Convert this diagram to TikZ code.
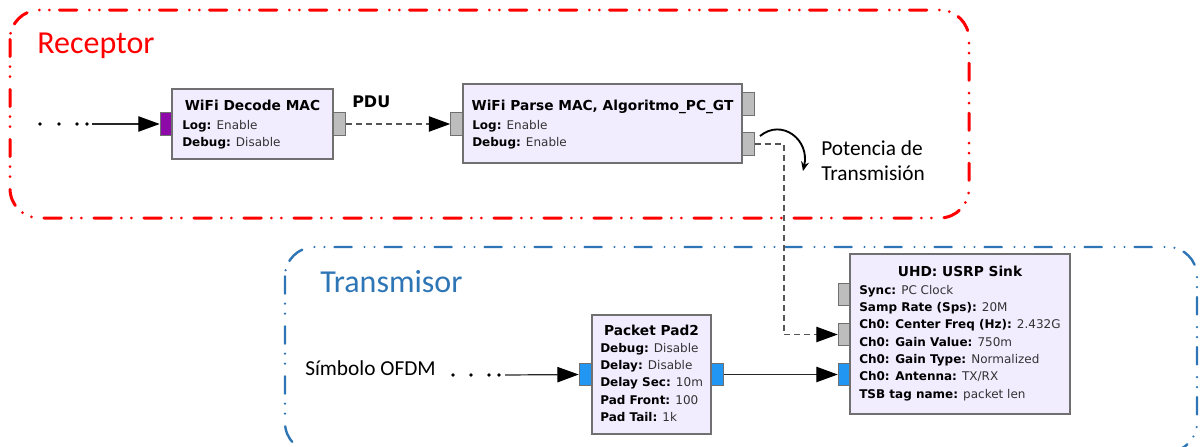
\documentclass[tikz,border=0pt]{standalone}
\usepackage{fontspec}
\setmainfont{Carlito}
\newfontfamily\grcfont{DejaVu Sans}
\usetikzlibrary{arrows.meta}
\definecolor{rxred}{HTML}{FF0000}
\definecolor{txblue}{HTML}{2E75B6}
\definecolor{blockfill}{HTML}{F1EDFF}
\definecolor{blockdraw}{HTML}{707070}
\definecolor{portgray}{HTML}{BDBDBD}
\definecolor{portpurple}{HTML}{8E0AA8}
\definecolor{portblue}{HTML}{2196F3}
\definecolor{valgray}{HTML}{333333}
\definecolor{dashgray}{HTML}{555555}
\newcommand\kv[2]{\textbf{#1:} \textcolor{valgray}{#2}}
\begin{document}
\begin{tikzpicture}[x=0.75pt,y=-0.75pt,
  region/.style={line width=#1, line cap=round, rounded corners=22pt,
    dash pattern=on 13pt off 7.5pt on 0pt off 7.5pt on 0pt off 9.5pt},
  blockbox/.style={draw=blockdraw, fill=blockfill, line width=0.8pt, inner sep=0, rectangle},
  port/.style={draw=blockdraw, line width=0.8pt, inner sep=0, minimum width=9.4pt, minimum height=17pt, rectangle},
  graytab/.style={port, fill=portgray},
  bluetab/.style={port, fill=portblue},
  purpletab/.style={port, fill=portpurple},
  btitle/.style={anchor=base, inner sep=0, font=\grcfont\bfseries\fontsize{10.3}{13}\selectfont},
  bparams/.style={anchor=base west, inner sep=0, font=\grcfont\fontsize{9}{13}\selectfont},
  conn/.style={line width=0.9pt, draw=black!85, -{Triangle[length=16pt,width=11.5pt,color=black]}},
  dconn/.style={conn, draw=dashgray, dash pattern=on 4.5pt off 3pt},
  regionlabel/.style={anchor=base west, inner sep=0, font=\fontsize{24}{28}\selectfont},
  note/.style={anchor=base west, inner sep=0, font=\fontsize{16}{20}\selectfont},
]
\path[use as bounding box, clip] (0,0) rectangle (1202,446);

% regions
\draw[region=2.25pt, draw=rxred] (10,10) rectangle (969,218);
\draw[region=1.8pt, draw=txblue] (285,247) rectangle (1197,452);
\node[regionlabel, text=rxred] (rxlabel) at (37,53) {Receptor};
\node[regionlabel, text=txblue] (txlabel) at (320,292) {Transmisor};

% ports
\node[purpletab] (decin) at (166.5,124) {};
\node[graytab] (decout) at (339,124) {};
\node[graytab] (parin) at (457,124) {};
\node[graytab] (parout1) at (748,104) {};
\node[graytab] (parout2) at (748,144) {};
\node[bluetab] (padin) at (585.5,374.5) {};
\node[bluetab] (padout) at (717.5,374.5) {};
\node[graytab] (usrpsync) at (844.5,294.5) {};
\node[graytab] (usrpin1) at (844.5,334.5) {};
\node[bluetab] (usrpin0) at (844.5,374.5) {};

% blocks
\node[blockbox, minimum width=120.75pt, minimum height=52.5pt] (dec) at (252.5,124) {};
\node[btitle] (dectitle) at (252.5,110) {WiFi Decode MAC};
\node[bparams] (decparams) at (182,129) {\begin{tabular}[t]{@{}l@{}}\kv{Log}{Enable}\\ \kv{Debug}{Disable}\end{tabular}};

\node[blockbox, minimum width=209.25pt, minimum height=59.25pt] (par) at (602.5,123.5) {};
\node[btitle] (partitle) at (602.5,110) {WiFi Parse MAC, Algoritmo\_PC\_GT};
\node[bparams] (parparams) at (472,129) {\begin{tabular}[t]{@{}l@{}}\kv{Log}{Enable}\\ \kv{Debug}{Enable}\end{tabular}};

\node[blockbox, minimum width=89.25pt, minimum height=89.25pt] (pad) at (651.5,374.5) {};
\node[btitle] (padtitle) at (651.5,335) {Packet Pad2};
\node[bparams] (padparams) at (600,352) {\begin{tabular}[t]{@{}l@{}}\kv{Debug}{Disable}\\ \kv{Delay}{Disable}\\ \kv{Delay Sec}{10m}\\ \kv{Pad Front}{100}\\ \kv{Pad Tail}{1k}\end{tabular}};

\node[blockbox, minimum width=165pt, minimum height=120pt] (usrp) at (960,334) {};
\node[btitle] (usrptitle) at (960,276) {UHD: USRP Sink};
\node[bparams] (usrpparams) at (859,294) {\begin{tabular}[t]{@{}l@{}}\kv{Sync}{PC Clock}\\ \kv{Samp Rate (Sps)}{20M}\\ \kv{Ch0: Center Freq (Hz)}{2.432G}\\ \kv{Ch0: Gain Value}{750m}\\ \kv{Ch0: Gain Type}{Normalized}\\ \kv{Ch0: Antenna}{TX/RX}\\ \kv{TSB tag name}{packet len}\end{tabular}};

% labels
\node[anchor=base west, inner sep=0, font=\grcfont\bfseries\fontsize{12}{14}\selectfont] (pdu) at (352,107) {PDU};
\node[note] (pot1) at (821,155) {Potencia de};
\node[note] (pot2) at (821,180) {Transmisión};
\node[note] (ofdm) at (305,375) {Símbolo OFDM};

% dots
\foreach \x in {40,59,77,87} \fill (\x,124) circle (1.4pt);
\foreach \x in {453,471,489,499} \fill (\x,375) circle (1.4pt);
\coordinate (rxdots) at (92,124);
\coordinate (txdots) at (505,375);

% connectors
\draw[conn] (rxdots) -- (decin.west);
\draw[dconn] (decout.east) -- (parin.west);
\coordinate (bendA) at (784,144);
\coordinate (bendB) at (784,334.5);
\draw[dconn] (parout2.east) -- (bendA) -- (bendB) -- (usrpin1.west);
\draw[conn] (txdots) -- (padin.west);
\draw[conn] (padout.east) -- (usrpin0.west);

% curved note arrow
\coordinate (cvS) at (760,136);
\coordinate (cvE) at (803,171);
\draw[line width=1.4pt, -{Stealth[length=7pt,width=6pt]}] (cvS) .. controls (782,118) and (810,140) .. (cvE);
\end{tikzpicture}
\end{document}
